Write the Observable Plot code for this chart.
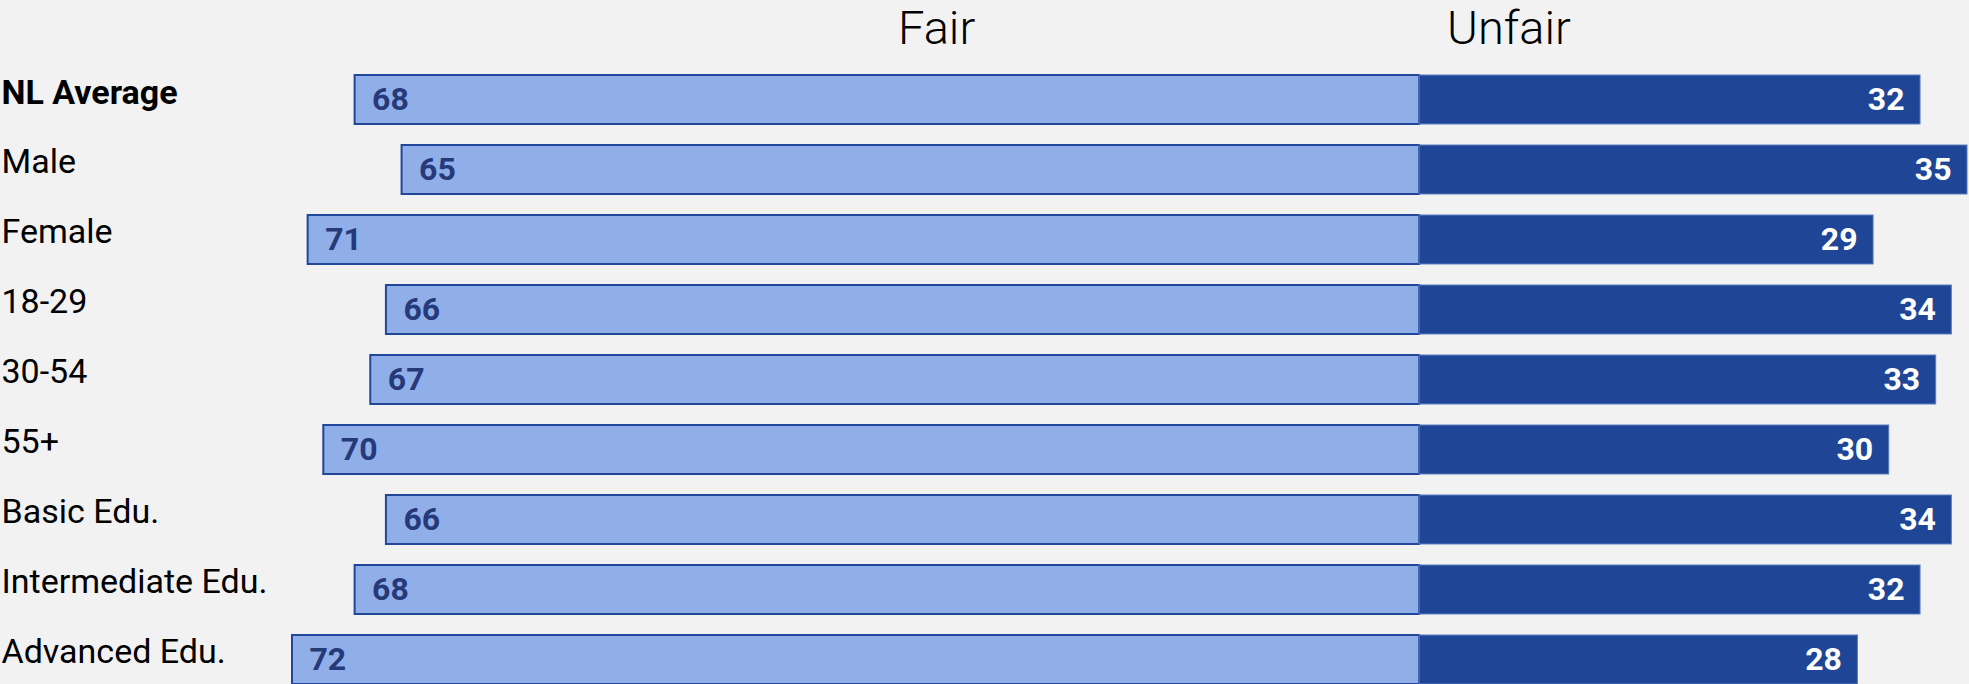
<!DOCTYPE html>
<html>
<head>
<meta charset="utf-8">
<script src="https://cdn.jsdelivr.net/npm/d3@7"></script>
<script src="https://cdn.jsdelivr.net/npm/@observablehq/plot@0.6"></script>
<style>
  html, body { margin: 0; padding: 0; background: #f2f2f2; overflow: hidden; width: 1969px; height: 684px; }
  #wrap { position: relative; width: 1969px; height: 684px; }
  .hdr { position: absolute; top: 0px; font-family: Roboto, sans-serif; font-weight: 300; font-size: 47px; line-height: 56px; color: #000; }
</style>
</head>
<body>
<div id="wrap">
  <span class="hdr" id="hFair" style="left:898px">Fair</span>
  <span class="hdr" id="hUnfair" style="left:1447px">Unfair</span>
</div>
<script>
const categories = ["NL Average", "Male", "Female", "18-29", "30-54", "55+", "Basic Edu.", "Intermediate Edu.", "Advanced Edu."];
const fairValues = [68, 65, 71, 66, 67, 70, 66, 68, 72];
const unfairValues = [32, 35, 29, 34, 33, 30, 34, 32, 28];
const boldCategory = "NL Average";

const rows = categories.map((c, i) => ({category: c, fair: fairValues[i], unfair: unfairValues[i]}));

const chart = Plot.plot({
  width: 1969,
  height: 705,
  marginTop: 53,
  marginBottom: 0,
  marginLeft: 292,
  marginRight: 2,
  style: {background: "transparent", fontFamily: "Roboto, sans-serif", overflow: "visible"},
  x: {domain: [-72, 35], axis: null},
  y: {domain: categories, padding: 0.3, axis: null},
  marks: [
    Plot.barX(rows, {y: "category", x1: d => -d.fair, x2: 0, fill: "#90aee8", stroke: "#22479a", strokeWidth: 2}),
    Plot.barX(rows, {y: "category", x1: 0, x2: "unfair", fill: "#1f4696", stroke: "#5d7cbf", strokeWidth: 1}),
    Plot.text(rows, {y: "category", x: d => -d.fair, text: d => String(d.fair), textAnchor: "start", dx: 17, fill: "#263a7a", fontSize: 32, fontWeight: "bold"}),
    Plot.text(rows, {y: "category", x: "unfair", text: d => String(d.unfair), textAnchor: "end", dx: -16, fill: "#ffffff", fontSize: 32, fontWeight: "bold"}),
    Plot.text(rows.filter(d => d.category === boldCategory), {y: "category", text: "category", frameAnchor: "left", textAnchor: "start", dx: -291, dy: -7, fill: "#000", fontSize: 34, fontWeight: "bold"}),
    Plot.text(rows.filter(d => d.category !== boldCategory), {y: "category", text: "category", frameAnchor: "left", textAnchor: "start", dx: -291, dy: -8, fill: "#000", fontSize: 34})
  ]
});
chart.style.position = "absolute";
chart.style.left = "0px";
chart.style.top = "0px";
document.getElementById("wrap").appendChild(chart);
</script>
</body>
</html>
